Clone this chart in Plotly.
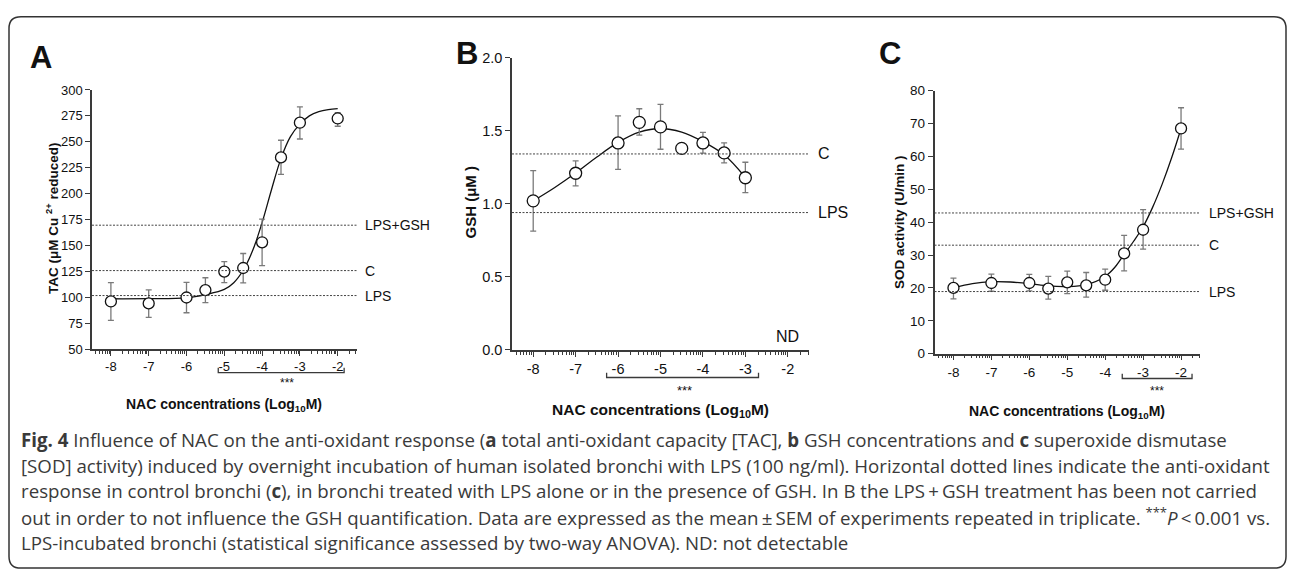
import math
import plotly.graph_objects as go

W, H = 1292, 580

# ---------------- data ----------------
# Panel A : TAC
A_x = [-8, -7, -6, -5.5, -5, -4.5, -4, -3.5, -3, -2]
A_y = [95.9, 94.0, 99.7, 106.9, 124.7, 128.2, 153.0, 234.9, 268.4, 272.5]
A_err_plus = [18.1, 13.0, 14.7, 11.9, 9.7, 14.0, 22.3, 16.6, 15.3, 5.5]
A_err_minus = [18.2, 13.5, 14.7, 12.2, 10.7, 14.3, 22.6, 16.3, 15.7, 7.5]
A_fit_x = [-8, -7, -6, -5.5, -5, -4.75, -4.5, -4.25, -4, -3.75, -3.5, -3.25, -3, -2.75, -2.5, -2.25, -2]
A_fit_y = [98.5, 98.6, 99.4, 102.5, 107.5, 114, 126, 145, 172, 204, 234, 255, 267, 275, 279, 281, 282]
A_ref_names = ["LPS+GSH", "C", "LPS"]
A_ref_vals = [169.5, 125.7, 101.6]

# Panel B : GSH
B_x = [-8, -7, -6, -5.5, -5, -4.5, -4, -3.5, -3]
B_y = [1.02, 1.209, 1.416, 1.557, 1.526, 1.379, 1.416, 1.348, 1.178]
B_err_plus = [0.207, 0.084, 0.185, 0.093, 0.154, 0.0, 0.073, 0.068, 0.106]
B_err_minus = [0.207, 0.086, 0.180, 0.087, 0.153, 0.0, 0.070, 0.068, 0.101]
B_fit_x = [-8, -7.5, -7, -6.5, -6, -5.5, -5, -4.5, -4, -3.5, -3]
B_fit_y = [1.02, 1.11, 1.21, 1.32, 1.42, 1.49, 1.515, 1.49, 1.425, 1.335, 1.18]
B_ref_names = ["C", "LPS"]
B_ref_vals = [1.341, 0.94]

# Panel C : SOD
C_x = [-8, -7, -6, -5.5, -5, -4.5, -4, -3.5, -3, -2]
C_y = [20.0, 21.5, 21.5, 19.8, 21.7, 20.8, 22.5, 30.5, 37.7, 68.5]
C_err_plus = [3.0, 2.7, 2.6, 3.7, 3.4, 3.9, 3.2, 5.5, 6.1, 6.3]
C_err_minus = [3.3, 2.5, 2.4, 3.2, 3.4, 3.6, 3.2, 5.3, 5.9, 6.3]
C_fit_x = [-8, -7.5, -7, -6.5, -6, -5.5, -5, -4.5, -4, -3.75, -3.5, -3.25, -3, -2.75, -2.5, -2.25, -2]
C_fit_y = [20.0, 21.3, 21.9, 21.8, 21.3, 20.6, 20.4, 21.0, 23.5, 26.2, 30.2, 34.2, 38.6, 44.5, 51.5, 59.5, 68.5]
C_ref_names = ["LPS+GSH", "C", "LPS"]
C_ref_vals = [42.8, 33.0, 18.9]

x_tick_vals = [-8, -7, -6, -5, -4, -3, -2]
x_tick_text = ["-8", "-7", "-6", "-5", "-4", "-3", "-2"]
A_ytick_vals = [50, 75, 100, 125, 150, 175, 200, 225, 250, 275, 300]
A_ytick_text = ["50", "75", "100", "125", "150", "175", "200", "225", "250", "275", "300"]
B_ytick_vals = [0, 0.5, 1.0, 1.5, 2.0]
B_ytick_text = ["0.0", "0.5", "1.0", "1.5", "2.0"]
C_ytick_vals = [0, 10, 20, 30, 40, 50, 60, 70, 80]
C_ytick_text = ["0", "10", "20", "30", "40", "50", "60", "70", "80"]

# significance brackets (x extent in log units)
A_sig = (-5.16, -1.83)
B_sig = (-6.27, -2.69)
C_sig = (-3.55, -1.71)

TS = "\u2009"  # thin space
caption_lines = [
    "<b>Fig. 4</b> Influence of NAC on the anti-oxidant response (<b>a</b> total anti-oxidant capacity [TAC], <b>b</b> GSH concentrations and <b>c</b> superoxide dismutase",
    "[SOD] activity) induced by overnight incubation of human isolated bronchi with LPS (100 ng/ml). Horizontal dotted lines indicate the anti-oxidant",
    f"response in control bronchi (<b>c</b>), in bronchi treated with LPS alone or in the presence of GSH. In B the LPS{TS}+{TS}GSH treatment has been not carried",
    f"out in order to not influence the GSH quantification. Data are expressed as the mean{TS}±{TS}SEM of experiments repeated in triplicate. <sup>***</sup><i>P</i>{TS}&lt;{TS}0.001 vs.",
    "LPS-incubated bronchi (statistical significance assessed by two-way ANOVA). ND: not detectable",
]

# ---------------- helpers ----------------
def px(x):
    return x / W

def py(y):
    return 1 - y / H

FONT = "Liberation Sans, Arial, sans-serif"
AXC = "#3a3a3a"
XR = [-8.5, -1.5]

minor_vals = []
for d in range(-9, -1):
    for k in range(2, 10):
        v = d + math.log10(k)
        if XR[0] <= v <= XR[1]:
            minor_vals.append(v)

fig = go.Figure()

panels = [
    dict(n="", xd=(92, 356.6), yd=(84.3, 350.7), yr=(50, 300), yv=A_ytick_vals, yt=A_ytick_text,
         x=A_x, y=A_y, ep=A_err_plus, em=A_err_minus, fx=A_fit_x, fy=A_fit_y,
         rn=A_ref_names, rv=A_ref_vals, tf=13, lf=14, ms=11, sig=A_sig),
    dict(n="2", xd=(512, 809), yd=(51, 351.7), yr=(0, 2), yv=B_ytick_vals, yt=B_ytick_text,
         x=B_x, y=B_y, ep=B_err_plus, em=B_err_minus, fx=B_fit_x, fy=B_fit_y,
         rn=B_ref_names, rv=B_ref_vals, tf=14.5, lf=16, ms=12, sig=B_sig),
    dict(n="3", xd=(934.5, 1200), yd=(85, 355.5), yr=(0, 80), yv=C_ytick_vals, yt=C_ytick_text,
         x=C_x, y=C_y, ep=C_err_plus, em=C_err_minus, fx=C_fit_x, fy=C_fit_y,
         rn=C_ref_names, rv=C_ref_vals, tf=13.5, lf=14, ms=11, sig=C_sig),
]

layout_axes = {}
shapes = []
annotations = []

for p in panels:
    xa = "x" + p["n"]
    ya = "y" + p["n"]
    layout_axes["xaxis" + p["n"]] = dict(
        domain=[px(p["xd"][0]), px(p["xd"][1])], range=XR, anchor=ya,
        showline=True, linecolor=AXC, linewidth=1.5, ticks="outside", ticklen=5,
        tickwidth=1.3, tickcolor=AXC, tickvals=x_tick_vals, ticktext=x_tick_text,
        tickfont=dict(family=FONT, size=p["tf"], color="#111"), showgrid=False, zeroline=False,
        minor=dict(tickmode="array", tickvals=minor_vals, ticks="outside", ticklen=3,
                   tickwidth=1, tickcolor=AXC, showgrid=False),
    )
    layout_axes["yaxis" + p["n"]] = dict(
        domain=[py(p["yd"][1]), py(p["yd"][0])], range=list(p["yr"]), anchor=xa,
        showline=True, linecolor=AXC, linewidth=1.5, ticks="outside", ticklen=5,
        tickwidth=1.3, tickcolor=AXC, tickvals=p["yv"], ticktext=p["yt"],
        tickfont=dict(family=FONT, size=p["tf"], color="#111"), showgrid=False, zeroline=False,
    )
    # reference lines
    for name, val in zip(p["rn"], p["rv"]):
        shapes.append(dict(type="line", xref=xa + " domain", yref=ya, x0=0, x1=1, y0=val, y1=val,
                           line=dict(color="#444", width=1, dash="2px,1.5px")))
        annotations.append(dict(text=name, xref=xa + " domain", yref=ya, x=1.025, y=val,
                                xanchor="left", yanchor="middle", showarrow=False,
                                font=dict(family=FONT, size=p["lf"], color="#111")))
    # fitted curve
    fig.add_trace(go.Scatter(x=p["fx"], y=p["fy"], mode="lines", xaxis=xa, yaxis=ya,
                             line=dict(color="#111", width=1.3, shape="spline", smoothing=1.0),
                             showlegend=False, hoverinfo="skip"))
    # points
    fig.add_trace(go.Scatter(x=p["x"], y=p["y"], mode="markers", xaxis=xa, yaxis=ya,
                             marker=dict(symbol="circle", size=p["ms"], color="white",
                                         line=dict(color="#111", width=1.3)),
                             error_y=dict(type="data", array=p["ep"], arrayminus=p["em"],
                                          color="#7a7a7a", thickness=1.3, width=3),
                             showlegend=False))

# brackets & stars (pixel y positions)
br = [("x", A_sig, 375, 370, -3.34, 386, 12),
      ("x2", B_sig, 380, 375, -4.44, 393, 13),
      ("x3", C_sig, 381, 376, -2.63, 393.5, 12)]
for xa, (x0, x1), yb, yt, sx, sy, fs in br:
    shapes.append(dict(type="path", xref=xa, yref="paper",
                       path=f"M {x0},{py(yt)} L {x0},{py(yb)} L {x1},{py(yb)} L {x1},{py(yt)}",
                       line=dict(color=AXC, width=1.3)))
    annotations.append(dict(text="***", xref=xa, yref="paper", x=sx, y=py(sy), showarrow=False,
                            xanchor="center", yanchor="middle",
                            font=dict(family=FONT, size=fs, color="#111")))

# ND label in B
annotations.append(dict(text="ND", xref="paper", yref="paper", x=px(801), y=py(338),
                        xanchor="right", yanchor="middle", showarrow=False,
                        font=dict(family=FONT, size=16, color="#111")))

# panel letters
for letter, cx, cy in [("A", 41, 51), ("B", 467, 47), ("C", 890, 47)]:
    annotations.append(dict(text=f"<b>{letter}</b>", xref="paper", yref="paper", x=px(cx), y=py(cy),
                            xanchor="center", yanchor="middle", showarrow=False,
                            font=dict(family=FONT, size=31, color="#111")))

# axis titles
xt = "<b>NAC concentrations (Log<sub>10</sub>M)</b>"
for cx, cy, fs in [(224, 408, 14), (660, 414, 15.5), (1067, 415, 14)]:
    annotations.append(dict(text=xt, xref="paper", yref="paper", x=px(cx), y=py(cy),
                            xanchor="center", yanchor="middle", showarrow=False,
                            font=dict(family=FONT, size=fs, color="#111")))
for txt, cx, cy, fs in [("<b>TAC (μM Cu <sup>2+</sup> reduced)</b>", 52, 216, 13.5),
                        ("<b>GSH (μM )</b>", 470, 200, 15),
                        ("<b>SOD activity (U/min )</b>", 900, 220, 13.5)]:
    annotations.append(dict(text=txt, xref="paper", yref="paper", x=px(cx), y=py(cy),
                            xanchor="center", yanchor="middle", showarrow=False, textangle=-90,
                            font=dict(family=FONT, size=fs, color="#111")))

# caption
for i, line in enumerate(caption_lines):
    annotations.append(dict(text=line, xref="paper", yref="paper", x=px(19), y=py(443.5 + 26.5 * i),
                            xanchor="left", yanchor="middle", showarrow=False,
                            font=dict(family="Open Sans, sans-serif", size=18.7, color="#3a3a3a")))

# border (rounded rectangle)
L, T, R, B, r = 9, 9, 1286, 576, 12
path = (f"M {px(L+r)},{py(T)} L {px(R-r)},{py(T)} Q {px(R)},{py(T)} {px(R)},{py(T+r)} "
        f"L {px(R)},{py(B-r)} Q {px(R)},{py(B)} {px(R-r)},{py(B)} "
        f"L {px(L+r)},{py(B)} Q {px(L)},{py(B)} {px(L)},{py(B-r)} "
        f"L {px(L)},{py(T+r)} Q {px(L)},{py(T)} {px(L+r)},{py(T)} Z")
shapes.append(dict(type="path", xref="paper", yref="paper", path=path,
                   line=dict(color="#333", width=1.5)))

fig.update_layout(width=W, height=H, margin=dict(l=0, r=0, t=0, b=0),
                  paper_bgcolor="white", plot_bgcolor="white",
                  shapes=shapes, annotations=annotations, showlegend=False,
                  **layout_axes)

fig.write_html("out.html", config={"displayModeBar": False},
               post_script="document.body.style.margin='0px';")
